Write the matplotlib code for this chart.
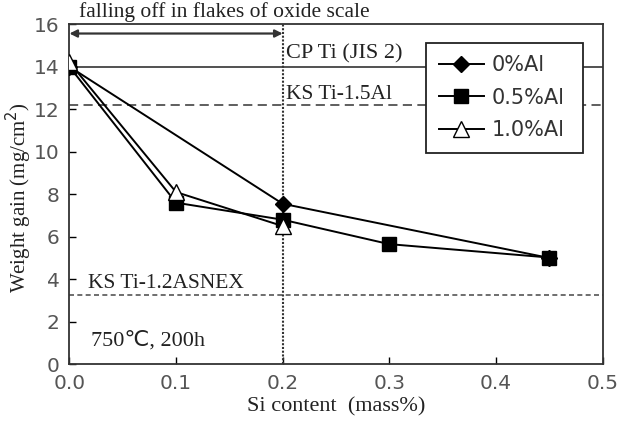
import matplotlib.pyplot as plt

# Si content (mass%) and weight gain (mg/cm2)
si_0 = [0.0, 0.2, 0.45]
wg_0 = [14.0, 7.55, 5.0]
si_05 = [0.0, 0.1, 0.2, 0.3, 0.45]
wg_05 = [14.0, 7.6, 6.8, 5.65, 5.02]
si_10 = [0.0, 0.1, 0.2]
wg_10 = [14.2, 8.1, 6.5]

cp_ti = 14.0
ks_15al = 12.18
ks_asnex = 3.27
si_limit = 0.2

serif = ['Liberation Serif', 'DejaVu Sans']
sans = 'DejaVu Sans'

fig = plt.figure(figsize=(6.17, 4.24), dpi=100)
ax = fig.add_axes([0.1125, 0.141, 0.864, 0.802])

# reference lines
ax.axhline(cp_ti, color='#333333', lw=1.2)
ax.axhline(ks_15al, color='#333333', lw=1.1, ls=(0, (6, 3.5)))
ax.axhline(ks_asnex, color='#555555', lw=1.2, ls=(0, (3, 2)))
ax.axvline(si_limit, color='#333333', lw=1.5, ls=(0, (1, 0.8)))

ax.plot(si_0, wg_0, color='black', lw=1.4, marker='D', ms=8, label='0%Al', zorder=5)
ax.plot(si_05, wg_05, color='black', lw=1.4, marker='s', ms=10, label='0.5%Al', zorder=4)
ax.plot(si_10, wg_10, color='black', lw=1.4, marker='^', ms=11, mfc='white',
        label='1.0%Al', zorder=6)

ax.annotate('', xy=(0.0, 15.56), xytext=(si_limit, 15.56),
            arrowprops=dict(arrowstyle='<|-|>', color='#333333', lw=1.6,
                            mutation_scale=11, shrinkA=0, shrinkB=0))
ax.text(0.009, 16.36, 'falling off in flakes of oxide scale', family=serif,
        fontsize=15.5, color='#222222', va='baseline', clip_on=False)

ax.text(0.2035, 14.38, 'CP Ti (JIS 2)', family=serif, fontsize=16, color='#222222', va='baseline')
ax.text(0.2035, 12.5, 'KS Ti-1.5Al', family=serif, fontsize=15.5, color='#222222', va='baseline')
ax.text(0.0175, 3.6, 'KS Ti-1.2ASNEX', family=serif, fontsize=15.5, color='#222222', va='baseline')
ax.text(0.0205, 0.9, '750℃, 200h', family=serif, fontsize=16, color='#222222', va='baseline')

ax.set_xlim(0, 0.5)
ax.set_ylim(0, 16)
ax.set_xticks([0.0, 0.1, 0.2, 0.3, 0.4, 0.5])
ax.set_xticklabels(['0.0', '0.1', '0.2', '0.3', '0.4', '0.5'])
ax.set_yticks(range(0, 17, 2))
ax.tick_params(direction='in', length=5, width=1, labelsize=14.5, labelcolor='#555555')
ax.tick_params(axis='x', pad=7)
ax.tick_params(axis='y', pad=7)
for lab in ax.get_xticklabels() + ax.get_yticklabels():
    lab.set_family(sans)
for s in ax.spines.values():
    s.set_linewidth(1.3)
    s.set_color('#333333')

ax.set_xlabel('Si content  (mass%)', family=serif, fontsize=16, color='#222222', labelpad=3)
ax.set_ylabel('Weight gain (mg/cm$^2$)', family=serif, fontsize=15, color='#222222')
ax.yaxis.set_label_coords(-0.066, 0.49)

leg = ax.legend(loc='upper left', bbox_to_anchor=(0.669, 0.595, 0.294, 0.351), mode='expand',
                prop={'family': sans, 'size': 15},
                frameon=True, fancybox=False, edgecolor='#222222', framealpha=1,
                handlelength=2.2, borderpad=0.6, labelspacing=0.6, handletextpad=0.35,
                borderaxespad=0)
leg.get_frame().set_linewidth(1.3)
for t in leg.get_texts():
    t.set_color('#333333')

fig.savefig('out.png', dpi=100)
